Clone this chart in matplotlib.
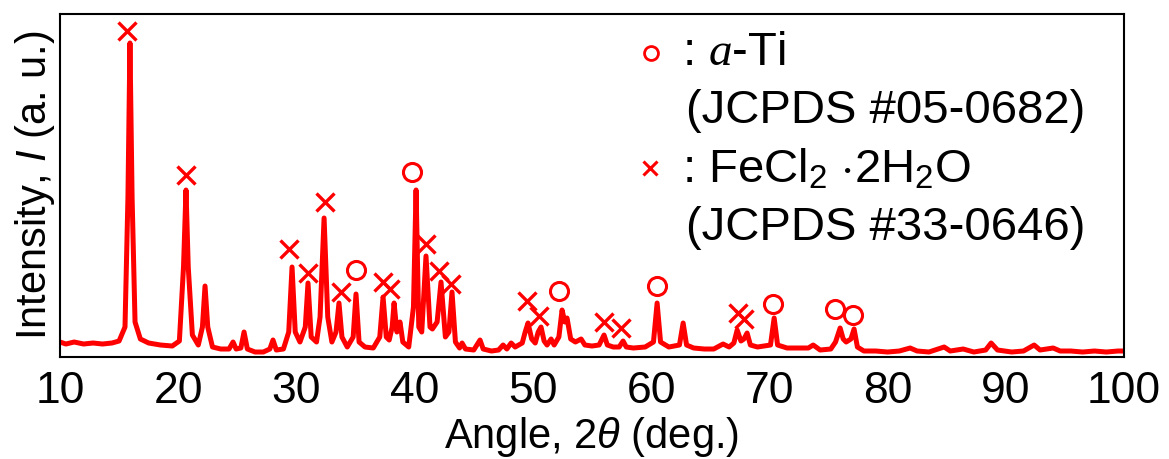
import matplotlib
matplotlib.use("Agg")
import matplotlib.pyplot as plt

# XRD trace (2theta in deg., intensity in arbitrary units)
two_theta = [
    10.0, 10.5, 11.2, 12.0, 12.8, 13.6, 14.4, 15.0, 15.5, 15.75, 15.92, 16.1, 16.35, 16.8,
    17.5, 18.5, 19.5, 20.1, 20.45, 20.66, 20.85, 21.2, 21.7, 22.05, 22.27, 22.5, 22.9,
    23.6, 24.3, 24.64, 24.9, 25.3, 25.57, 25.85, 26.5, 27.2, 27.75, 28.02, 28.3, 28.9,
    29.35, 29.63, 29.9, 30.3, 30.75, 30.98, 31.25, 31.7, 32.0, 32.34, 32.65, 33.0, 33.35,
    33.6, 33.85, 34.3, 34.8, 35.04, 35.3, 35.8, 36.5, 37.05, 37.33, 37.6, 37.85, 38.1,
    38.26, 38.5, 38.76, 39.0, 39.5, 39.9, 40.12, 40.35, 40.6, 40.96, 41.3, 41.5, 41.9,
    42.23, 42.6, 42.9, 43.16, 43.45, 43.8, 44.01, 44.3, 45.0, 45.53, 45.8, 46.5, 47.1,
    47.48, 47.8, 48.16, 48.5, 49.1, 49.35, 49.59, 49.9, 50.2, 50.45, 50.69, 50.95, 51.2,
    51.54, 51.8, 52.2, 52.47, 52.7, 52.89, 53.2, 53.6, 54.08, 54.4, 55.0, 55.6, 56.02,
    56.3, 56.8, 57.3, 57.63, 57.9, 58.5, 59.5, 60.2, 60.51, 60.8, 61.5, 62.4, 62.71, 63.0,
    63.6, 64.5, 65.3, 66.09, 66.6, 67.0, 67.28, 67.6, 67.85, 68.12, 68.4, 69.0, 70.1,
    70.41, 70.7, 71.5, 72.5, 73.3, 73.71, 74.3, 75.2, 75.6, 75.99, 76.25, 76.5, 76.9,
    77.17, 77.45, 78.0, 79.0, 80.0, 81.0, 81.91, 82.5, 83.5, 84.79, 85.3, 86.4, 87.3,
    88.3, 88.76, 89.3, 90.5, 91.5, 92.4, 92.9, 94.01, 94.6, 95.5, 96.5, 97.5, 98.5,
    99.5, 100.0,
]
intensity = [
    15, 13, 15, 13, 14, 13, 14, 16, 30, 160, 314, 160, 35, 18,
    14, 12, 11, 16, 90, 167, 90, 22, 12, 30, 71, 30, 10,
    8, 8, 15, 8, 9, 25, 8, 5, 5, 8, 17, 7, 8,
    25, 90, 25, 15, 30, 74, 20, 15, 40, 139, 40, 15, 25,
    54, 20, 10, 20, 63, 15, 10, 9, 20, 60, 20, 17, 30,
    54, 25, 35, 15, 10, 50, 167, 30, 25, 101, 30, 28, 35,
    75, 20, 25, 65, 15, 9, 14, 8, 7, 17, 8, 6, 7,
    12, 8, 14, 10, 14, 25, 34, 18, 14, 25, 30, 16, 12,
    18, 12, 20, 47, 35, 39, 18, 15, 18, 12, 11, 12, 22,
    12, 10, 10, 16, 10, 9, 10, 15, 54, 15, 10, 12, 34, 12,
    9, 8, 8, 13, 10, 14, 27, 16, 18, 24, 12, 10, 12,
    39, 12, 9, 9, 9, 12, 7, 8, 15, 29, 18, 15, 18,
    28, 10, 6, 6, 5, 6, 9, 6, 5, 10, 6, 8, 5,
    7, 14, 7, 5, 6, 12, 7, 9, 6, 6, 5, 6, 5,
    6, 6,
]

# peak assignments
feCl2_x = [15.67, 20.66, 29.37, 30.98, 32.42, 33.77, 37.33, 37.92, 40.96, 42.06, 43.08,
           49.51, 50.52, 56.02, 57.46, 67.36, 67.87]
feCl2_y = [326, 182, 108, 84, 155, 65, 75, 68, 113, 86, 73, 56, 41, 35, 29, 44, 38]
ti_x = [35.04, 39.78, 52.22, 60.51, 70.32, 75.57, 77.09]
ti_y = [87, 185, 66, 71, 53, 48, 42]

plt.rcParams["font.family"] = ["Liberation Sans", "DejaVu Sans"]
plt.rcParams["mathtext.fontset"] = "custom"
plt.rcParams["mathtext.rm"] = "Liberation Sans"
plt.rcParams["mathtext.it"] = "Liberation Serif:italic"
plt.rcParams["mathtext.sf"] = "Liberation Sans:italic"

fig = plt.figure(figsize=(11.69, 4.59), dpi=100)
ax = fig.add_axes([0.0513, 0.2222, 0.9102, 0.7473])

red = "#ff0000"
ax.plot(two_theta, intensity, color=red, lw=3.6, solid_joinstyle="round")
ax.plot(feCl2_x, feCl2_y, ls="none", marker="x", ms=13, mew=2.4, color=red)
ax.plot(ti_x, ti_y, ls="none", marker="o", ms=13, mew=2.2, mfc="none", mec=red)

ax.set_xlim(10, 100)
ax.set_ylim(0, 343)
ax.set_yticks([])
ax.set_xticks(range(10, 101, 10))
ax.tick_params(axis="x", length=0, labelsize=32, pad=10)
for s in ax.spines.values():
    s.set_linewidth(1.5)

ax.set_xlabel(r"Angle, 2$\mathsf{\theta}$ (deg.)", fontsize=30, labelpad=2)
ax.set_ylabel(r"Intensity, $\mathsf{I}$ (a. u.)", fontsize=30, labelpad=2)

# legend drawn by hand
ax.plot([0.5555], [0.886], transform=ax.transAxes, ls="none", marker="o", ms=10,
        mew=2.0, mfc="none", mec=red, clip_on=False)
ax.plot([0.5545], [0.551], transform=ax.transAxes, ls="none", marker="x", ms=10,
        mew=2.2, color=red, clip_on=False)
ax.text(0.585, 0.886, r": $a$-Ti", transform=ax.transAxes, fontsize=34, va="center")
ax.text(0.588, 0.717, "(JCPDS #05-0682)", transform=ax.transAxes, fontsize=34, va="center")
ax.text(0.585, 0.545, r": FeCl$_2$ $\cdot$2H$_2$O", transform=ax.transAxes, fontsize=34,
        va="center")
ax.text(0.588, 0.377, "(JCPDS #33-0646)", transform=ax.transAxes, fontsize=34, va="center")

fig.savefig("out.png", dpi=100)
